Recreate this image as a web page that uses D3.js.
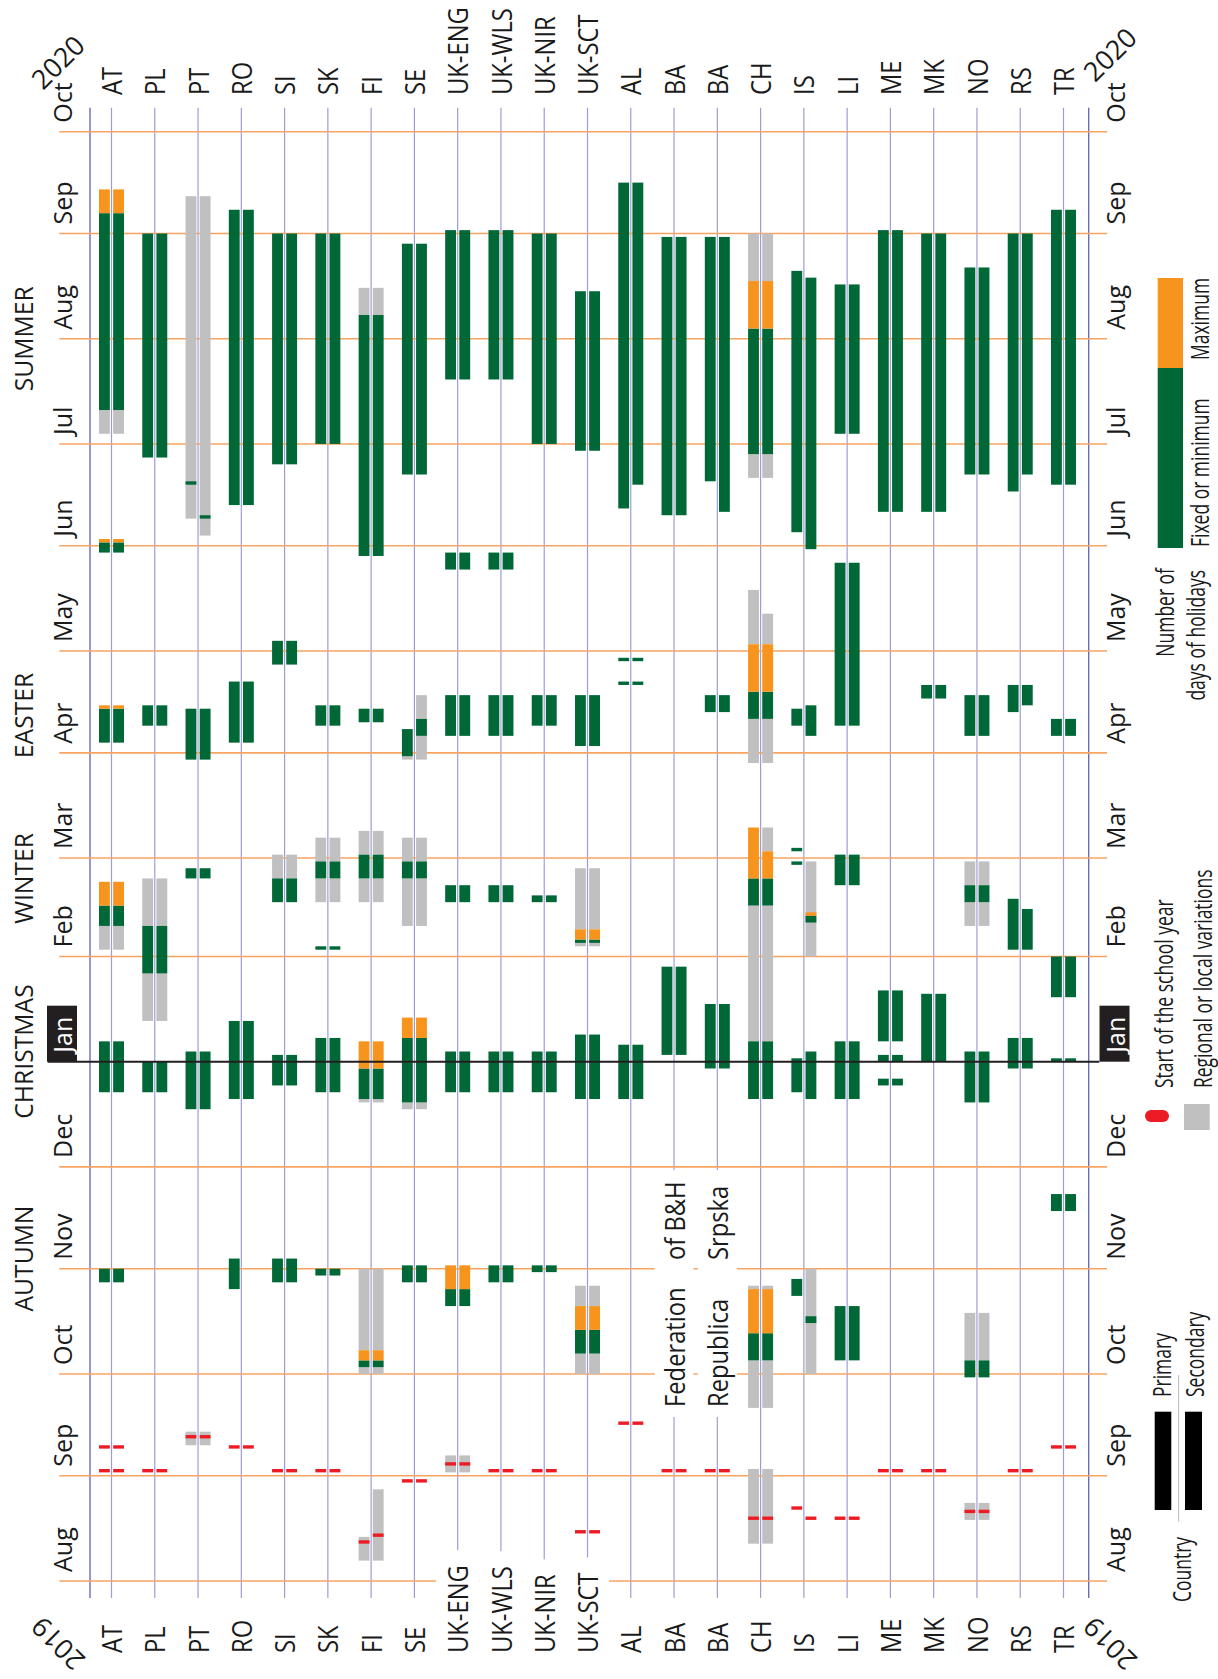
<!DOCTYPE html>
<html>
<head>
<meta charset="utf-8">
<script src="https://cdn.jsdelivr.net/npm/d3@7"></script>
<style>
  body { margin: 0; background: #fff; }
  svg text { font-family: "Open Sans", sans-serif; fill: #1a1a1a; }
</style>
</head>
<body>
<div id="chart"></div>
<script>
// Countries, left to right (primary bar left of the line, secondary right)
var countryIds = ["AT","PL","PT","RO","SI","SK","FI","SE","ENG","WLS","NIR","SCT",
                  "AL","BAF","BAS","CH","IS","LI","ME","MK","NO","RS","TR"];
var countryLabels = ["AT","PL","PT","RO","SI","SK","FI","SE","UK-ENG","UK-WLS","UK-NIR","UK-SCT",
                     "AL","BA","BA","CH","IS","LI","ME","MK","NO","RS","TR"];

var monthLabels = ["Aug","Sep","Oct","Nov","Dec","Jan","Feb","Mar","Apr","May","Jun","Jul","Aug","Sep","Oct"];
var periodLabels = ["AUTUMN","CHRISTMAS","WINTER","EASTER","SUMMER"];
var periodDates = ["2019-11-04","2020-01-04","2020-02-24","2020-04-12","2020-08-01"];

// [country, level (P / S / PS), first day, day after last]
var fixedDays = [
  ["AT","PS","2019-10-28","2019-11-01"], ["AT","PS","2019-12-23","2020-01-07"],
  ["AT","PS","2020-02-10","2020-02-16"], ["AT","PS","2020-04-04","2020-04-14"],
  ["AT","PS","2020-05-30","2020-06-02"], ["AT","PS","2020-07-11","2020-09-07"],
  ["PL","PS","2019-12-23","2020-01-01"], ["PL","PS","2020-01-27","2020-02-10"],
  ["PL","PS","2020-04-09","2020-04-15"], ["PL","PS","2020-06-27","2020-09-01"],
  ["PT","PS","2019-12-18","2020-01-04"], ["PT","PS","2020-02-24","2020-02-27"],
  ["PT","PS","2020-03-30","2020-04-14"], ["PT","P","2020-06-19","2020-06-20"],
  ["PT","S","2020-06-09","2020-06-10"],
  ["RO","P","2019-10-26","2019-11-04"], ["RO","PS","2019-12-21","2020-01-13"],
  ["RO","PS","2020-04-04","2020-04-22"], ["RO","PS","2020-06-13","2020-09-08"],
  ["SI","PS","2019-10-28","2019-11-04"], ["SI","PS","2019-12-25","2020-01-03"],
  ["SI","PS","2020-02-17","2020-02-24"], ["SI","PS","2020-04-27","2020-05-04"],
  ["SI","PS","2020-06-25","2020-09-01"],
  ["SK","PS","2019-10-30","2019-11-01"], ["SK","PS","2019-12-23","2020-01-08"],
  ["SK","PS","2020-02-03","2020-02-04"], ["SK","PS","2020-02-24","2020-02-29"],
  ["SK","PS","2020-04-09","2020-04-15"], ["SK","PS","2020-07-01","2020-09-01"],
  ["FI","PS","2019-10-03","2019-10-05"], ["FI","PS","2019-12-21","2019-12-30"],
  ["FI","PS","2020-02-24","2020-03-02"], ["FI","PS","2020-04-10","2020-04-14"],
  ["FI","PS","2020-05-29","2020-08-08"],
  ["SE","PS","2019-10-28","2019-11-02"], ["SE","PS","2019-12-20","2020-01-08"],
  ["SE","PS","2020-02-24","2020-02-29"], ["SE","P","2020-03-31","2020-04-08"],
  ["SE","S","2020-04-06","2020-04-11"], ["SE","PS","2020-06-22","2020-08-29"],
  ["ENG","PS","2019-10-21","2019-10-26"], ["ENG","PS","2019-12-23","2020-01-04"],
  ["ENG","PS","2020-02-17","2020-02-22"], ["ENG","PS","2020-04-06","2020-04-18"],
  ["ENG","PS","2020-05-25","2020-05-30"], ["ENG","PS","2020-07-20","2020-09-02"],
  ["WLS","PS","2019-10-28","2019-11-02"], ["WLS","PS","2019-12-23","2020-01-04"],
  ["WLS","PS","2020-02-17","2020-02-22"], ["WLS","PS","2020-04-06","2020-04-18"],
  ["WLS","PS","2020-05-25","2020-05-30"], ["WLS","PS","2020-07-20","2020-09-02"],
  ["NIR","PS","2019-10-31","2019-11-02"], ["NIR","PS","2019-12-23","2020-01-04"],
  ["NIR","PS","2020-02-17","2020-02-19"], ["NIR","PS","2020-04-09","2020-04-18"],
  ["NIR","PS","2020-07-01","2020-09-01"],
  ["SCT","PS","2019-10-07","2019-10-14"], ["SCT","PS","2019-12-21","2020-01-09"],
  ["SCT","PS","2020-02-05","2020-02-06"], ["SCT","PS","2020-04-03","2020-04-18"],
  ["SCT","PS","2020-06-29","2020-08-15"],
  ["AL","PS","2019-12-21","2020-01-06"], ["AL","PS","2020-04-21","2020-04-22"],
  ["AL","PS","2020-04-28","2020-04-29"], ["AL","P","2020-06-12","2020-09-16"],
  ["AL","S","2020-06-19","2020-09-16"],
  ["BAF","PS","2020-01-03","2020-01-29"], ["BAF","PS","2020-06-10","2020-08-31"],
  ["BAS","PS","2019-12-30","2020-01-18"], ["BAS","PS","2020-04-13","2020-04-18"],
  ["BAS","P","2020-06-20","2020-08-31"], ["BAS","S","2020-06-11","2020-08-31"],
  ["CH","PS","2019-10-05","2019-10-13"], ["CH","PS","2019-12-21","2020-01-07"],
  ["CH","PS","2020-02-16","2020-02-24"], ["CH","PS","2020-04-11","2020-04-19"],
  ["CH","PS","2020-06-28","2020-08-04"],
  ["IS","P","2019-10-24","2019-10-29"], ["IS","S","2019-10-16","2019-10-18"],
  ["IS","P","2019-12-23","2020-01-02"], ["IS","S","2019-12-21","2020-01-04"],
  ["IS","P","2020-02-28","2020-02-29"], ["IS","P","2020-03-03","2020-03-04"],
  ["IS","S","2020-02-11","2020-02-13"], ["IS","P","2020-04-09","2020-04-14"],
  ["IS","S","2020-04-06","2020-04-15"], ["IS","P","2020-06-05","2020-08-21"],
  ["IS","S","2020-05-31","2020-08-19"],
  ["LI","PS","2019-10-05","2019-10-21"], ["LI","PS","2019-12-21","2020-01-07"],
  ["LI","PS","2020-02-22","2020-03-02"], ["LI","PS","2020-04-09","2020-05-27"],
  ["LI","PS","2020-07-04","2020-08-17"],
  ["ME","PS","2019-12-25","2019-12-27"], ["ME","PS","2020-01-01","2020-01-03"],
  ["ME","PS","2020-01-07","2020-01-22"], ["ME","PS","2020-06-11","2020-09-02"],
  ["MK","PS","2020-01-01","2020-01-21"], ["MK","PS","2020-04-17","2020-04-21"],
  ["MK","PS","2020-06-11","2020-09-01"],
  ["NO","PS","2019-09-30","2019-10-05"], ["NO","PS","2019-12-20","2020-01-04"],
  ["NO","PS","2020-02-17","2020-02-22"], ["NO","PS","2020-04-06","2020-04-18"],
  ["NO","PS","2020-06-22","2020-08-22"],
  ["RS","PS","2019-12-30","2020-01-08"], ["RS","P","2020-02-03","2020-02-18"],
  ["RS","S","2020-02-03","2020-02-15"], ["RS","P","2020-04-13","2020-04-21"],
  ["RS","S","2020-04-15","2020-04-21"], ["RS","P","2020-06-17","2020-09-01"],
  ["RS","S","2020-06-22","2020-09-01"],
  ["TR","PS","2019-11-18","2019-11-23"], ["TR","PS","2020-01-01","2020-01-02"],
  ["TR","PS","2020-01-20","2020-02-01"], ["TR","PS","2020-04-06","2020-04-11"],
  ["TR","PS","2020-06-19","2020-09-08"]
];

var maxDays = [
  ["AT","PS","2020-02-16","2020-02-23"], ["AT","PS","2020-04-14","2020-04-15"],
  ["AT","PS","2020-06-02","2020-06-03"], ["AT","PS","2020-09-07","2020-09-14"],
  ["FI","PS","2019-10-05","2019-10-08"], ["FI","PS","2019-12-30","2020-01-07"],
  ["SE","PS","2020-01-08","2020-01-14"],
  ["ENG","PS","2019-10-26","2019-11-02"],
  ["SCT","PS","2019-10-14","2019-10-21"], ["SCT","PS","2020-02-06","2020-02-09"],
  ["CH","PS","2019-10-13","2019-10-26"], ["CH","P","2020-02-24","2020-03-10"],
  ["CH","S","2020-02-24","2020-03-03"], ["CH","PS","2020-04-19","2020-05-03"],
  ["CH","PS","2020-08-04","2020-08-18"],
  ["IS","S","2020-02-13","2020-02-14"]
];

var regionalDays = [
  ["AT","PS","2020-02-03","2020-02-10"], ["AT","PS","2020-07-04","2020-07-11"],
  ["PL","PS","2020-01-13","2020-01-27"], ["PL","PS","2020-02-10","2020-02-24"],
  ["PT","PS","2019-09-10","2019-09-14"], ["PT","P","2020-06-09","2020-09-12"],
  ["PT","S","2020-06-04","2020-09-12"],
  ["SI","PS","2020-02-24","2020-03-02"],
  ["SK","PS","2020-02-17","2020-02-24"], ["SK","PS","2020-02-29","2020-03-07"],
  ["FI","P","2019-08-07","2019-08-14"], ["FI","S","2019-08-07","2019-08-28"],
  ["FI","PS","2019-10-01","2019-10-03"], ["FI","PS","2019-10-08","2019-11-01"],
  ["FI","PS","2019-12-20","2019-12-21"], ["FI","PS","2020-02-17","2020-02-24"],
  ["FI","PS","2020-03-02","2020-03-09"], ["FI","PS","2020-08-08","2020-08-16"],
  ["SE","PS","2019-12-18","2019-12-20"], ["SE","PS","2020-02-10","2020-02-24"],
  ["SE","PS","2020-02-29","2020-03-07"], ["SE","P","2020-03-30","2020-03-31"],
  ["SE","S","2020-03-30","2020-04-06"], ["SE","S","2020-04-11","2020-04-18"],
  ["ENG","PS","2019-09-02","2019-09-07"],
  ["SCT","PS","2019-10-01","2019-10-07"], ["SCT","PS","2019-10-21","2019-10-27"],
  ["SCT","PS","2020-02-04","2020-02-05"], ["SCT","PS","2020-02-09","2020-02-27"],
  ["CH","PS","2019-08-12","2019-09-03"], ["CH","PS","2019-09-21","2019-10-05"],
  ["CH","PS","2019-10-26","2019-10-27"], ["CH","PS","2020-01-07","2020-02-16"],
  ["CH","S","2020-03-03","2020-03-10"], ["CH","PS","2020-03-29","2020-04-11"],
  ["CH","P","2020-05-03","2020-05-19"], ["CH","S","2020-05-03","2020-05-12"],
  ["CH","PS","2020-06-21","2020-06-28"], ["CH","PS","2020-08-18","2020-09-01"],
  ["IS","S","2019-10-01","2019-11-01"], ["IS","S","2020-02-01","2020-02-29"],
  ["NO","PS","2019-08-19","2019-08-24"], ["NO","PS","2019-10-05","2019-10-19"],
  ["NO","PS","2020-02-10","2020-02-17"], ["NO","PS","2020-02-22","2020-02-29"]
];

// [country, level, first school day]
var schoolStart = [
  ["AT","PS","2019-09-02"], ["AT","PS","2019-09-09"], ["PL","PS","2019-09-02"],
  ["PT","PS","2019-09-12"], ["RO","PS","2019-09-09"], ["SI","PS","2019-09-02"],
  ["SK","PS","2019-09-02"], ["FI","P","2019-08-12"], ["FI","S","2019-08-14"],
  ["SE","PS","2019-08-30"], ["ENG","PS","2019-09-04"], ["WLS","PS","2019-09-02"],
  ["NIR","PS","2019-09-02"], ["SCT","PS","2019-08-15"], ["AL","PS","2019-09-16"],
  ["BAF","PS","2019-09-02"], ["BAS","PS","2019-09-02"], ["CH","PS","2019-08-19"],
  ["IS","P","2019-08-22"], ["IS","S","2019-08-19"], ["LI","PS","2019-08-19"],
  ["ME","PS","2019-09-02"], ["MK","PS","2019-09-02"], ["NO","PS","2019-08-21"],
  ["RS","PS","2019-09-02"], ["TR","PS","2019-09-09"]
];

var colors = {fixed: "#006837", max: "#f7941d", regional: "#c0c0c0", start: "#ed1c24"};

var W = 1218, H = 1679;
var parseDate = d3.timeParse("%Y-%m-%d");

var svg = d3.select("#chart").append("svg")
    .attr("width", W)
    .attr("height", H);

// The chart is built lying on its side (time left to right) and turned a quarter turn
var chart = svg.append("g")
    .attr("transform", "translate(0," + H + ") rotate(-90)");

var x = d3.scaleTime()
    .domain([parseDate("2019-08-01"), parseDate("2020-10-01")])
    .range([98, 1547.3]);

var y = d3.scalePoint()
    .domain(countryIds)
    .range([111.5, 1063.5]);

var barW = 10.85, barGap = 1.65;

function addText(parent, str, px, py, size, squeeze, anchor, color) {
    return parent.append("text")
        .attr("transform", "translate(" + px + "," + py + ") scale(" + squeeze + ",1)")
        .attr("text-anchor", anchor || "start")
        .attr("dominant-baseline", "central")
        .style("font-size", size + "px")
        .style("fill", color || "#1a1a1a")
        .text(str);
}

// Country lines
var gGrid = chart.append("g");
gGrid.selectAll(".country-line")
    .data(countryIds)
    .enter()
    .append("line")
    .attr("x1", 81).attr("x2", 1571.3)
    .attr("y1", function(d) { return y(d); })
    .attr("y2", function(d) { return y(d); })
    .style("stroke", "#9d9dd6")
    .style("stroke-width", 1.2);

gGrid.selectAll(".frame-line")
    .data([90, 1088.7])
    .enter()
    .append("line")
    .attr("x1", 81).attr("x2", 1571.3)
    .attr("y1", function(d) { return d; })
    .attr("y2", function(d) { return d; })
    .style("stroke", "#6a6ac0")
    .style("stroke-width", 1.4);

// Month boundaries
var monthStarts = d3.timeMonth.range(parseDate("2019-08-01"), parseDate("2020-10-02"));
gGrid.selectAll(".month-line")
    .data(monthStarts.filter(function(d) { return !(d.getMonth() === 0); }))
    .enter()
    .append("line")
    .attr("x1", function(d) { return x(d); })
    .attr("x2", function(d) { return x(d); })
    .attr("y1", 59.3).attr("y2", 1107)
    .style("stroke", "#f7a463")
    .style("stroke-width", 1.6);

// White backgrounds and labels
var gMask = chart.append("g");
var gLabels = chart.append("g");

countryIds.forEach(function(id, i) {
    addText(gLabels, countryLabels[i], 1584, y(id), 27, 0.88);
    var t = addText(gLabels, countryLabels[i], 26, y(id), 27, 0.88);
    var len = t.node().getComputedTextLength() * 0.88;
    gMask.append("rect")
        .attr("x", 0).attr("width", 26 + len + 15)
        .attr("y", y(id) - 21.6).attr("height", 43.2)
        .style("fill", "#fff");
});

// Names of the two Bosnian entities, split in two words like the original
[["BAF", "Federation", "of B&H"], ["BAS", "Republica", "Srpska"]].forEach(function(b) {
    gMask.append("rect")
        .attr("x", 262).attr("width", 247)
        .attr("y", y(b[0]) - 19.5).attr("height", 39)
        .style("fill", "#fff");
    addText(gLabels, b[1], 272, y(b[0]), 27, 0.88);
    addText(gLabels, b[2], 419, y(b[0]), 27, 0.88);
});

monthStarts.forEach(function(d, i) {
    var isJan = d.getMonth() === 0;
    [62, 1114.5].forEach(function(cy) {
        if (isJan) {
            gLabels.append("rect")
                .attr("x", x(d)).attr("width", 56)
                .attr("y", cy - 15).attr("height", 30)
                .style("fill", "#231f20");
        }
        addText(gLabels, monthLabels[i], x(d) + 9, cy, 25, 1, "start", isJan ? "#fff" : "#1a1a1a");
    });
});

periodLabels.forEach(function(p, i) {
    addText(gLabels, p, x(parseDate(periodDates[i])), 22.5, 26, 0.95, "middle");
});

// Holiday bars
function barY(id, level) {
    return level === "P" ? y(id) - barGap - barW : y(id) + barGap;
}

function expand(rows) {
    var out = [];
    rows.forEach(function(r) {
        var levels = r[1] === "PS" ? ["P", "S"] : [r[1]];
        levels.forEach(function(l) {
            var from = parseDate(r[2]);
            var to = r[3] ? parseDate(r[3]) : d3.timeDay.offset(from, 1);
            out.push({id: r[0], level: l, from: from, to: to});
        });
    });
    return out;
}

var gBars = chart.append("g");
[[regionalDays, colors.regional], [fixedDays, colors.fixed],
 [maxDays, colors.max], [schoolStart, colors.start]].forEach(function(set) {
    gBars.append("g")
        .selectAll("rect")
        .data(expand(set[0]))
        .enter()
        .append("rect")
        .attr("x", function(d) { return x(d.from); })
        .attr("width", function(d) { return x(d.to) - x(d.from); })
        .attr("y", function(d) { return barY(d.id, d.level); })
        .attr("height", barW)
        .style("fill", set[1]);
});

// New Year line
chart.append("line")
    .attr("x1", x(parseDate("2020-01-01"))).attr("x2", x(parseDate("2020-01-01")))
    .attr("y1", 47.7).attr("y2", 1099.3)
    .style("stroke", "#231f20")
    .style("stroke-width", 2);

// Legend
var gLegend = chart.append("g");
gLegend.append("rect").attr("x", 1311).attr("width", 90).attr("y", 1157.7).attr("height", 25.3)
    .style("fill", colors.max);
gLegend.append("rect").attr("x", 1131).attr("width", 180).attr("y", 1157.7).attr("height", 25.3)
    .style("fill", colors.fixed);
addText(gLegend, "Maximum", 1319, 1199, 25, 0.7);
addText(gLegend, "Fixed or minimum", 1132, 1199, 25, 0.7);
addText(gLegend, "Number of", 1111, 1163.7, 25, 0.7, "end");
addText(gLegend, "days of holidays", 1109, 1195, 25, 0.7, "end");

gLegend.append("rect").attr("x", 557).attr("width", 12).attr("y", 1145).attr("height", 24)
    .attr("rx", 6).attr("ry", 6)
    .style("fill", colors.start);
addText(gLegend, "Start of the school year", 591, 1163.5, 25, 0.7);
gLegend.append("rect").attr("x", 549).attr("width", 26).attr("y", 1184).attr("height", 25.7)
    .style("fill", colors.regional);
addText(gLegend, "Regional or local variations", 591, 1202, 25, 0.7);

gLegend.append("line").attr("x1", 157.3).attr("x2", 304).attr("y1", 1178.7).attr("y2", 1178.7)
    .style("stroke", "#bbbbbb").style("stroke-width", 1);
gLegend.append("rect").attr("x", 169).attr("width", 98.3).attr("y", 1154.7).attr("height", 16.6)
    .style("fill", "#000");
gLegend.append("rect").attr("x", 169).attr("width", 98.3).attr("y", 1185).attr("height", 17)
    .style("fill", "#000");
addText(gLegend, "Primary", 282, 1161, 25, 0.7);
addText(gLegend, "Secondary", 282, 1194.5, 25, 0.7);
addText(gLegend, "Country", 77, 1181, 25, 0.7);

// Year labels in the corners
[["2020", 57.5, 61.7, -45], ["2020", 1109.5, 54, -45],
 ["2019", 57.5, 1644, -135], ["2019", 1109.5, 1644, -135]].forEach(function(c) {
    svg.append("text")
        .attr("transform", "translate(" + c[1] + "," + c[2] + ") rotate(" + c[3] + ")")
        .attr("text-anchor", "middle")
        .attr("dominant-baseline", "central")
        .style("font-size", "27px")
        .text(c[0]);
});
</script>
</body>
</html>
